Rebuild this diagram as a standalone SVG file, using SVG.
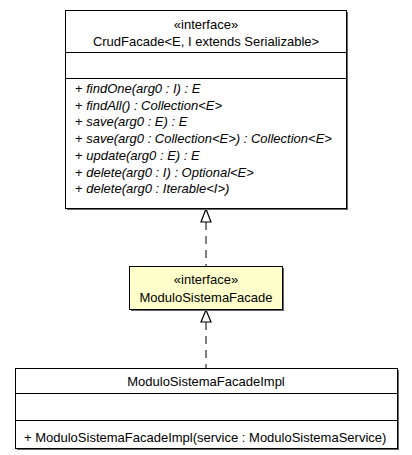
<svg xmlns="http://www.w3.org/2000/svg" width="412" height="455" viewBox="0 0 412 455">
<defs>
<style>
.box{fill:#ffffff;stroke:#000000;stroke-width:1}
.iface{fill:#ffffcc;stroke:#000000;stroke-width:1}
.shadow{fill:#666666}
.sep{stroke:#000000;stroke-width:1}
text{font-family:"Liberation Sans",Arial,sans-serif;font-size:13px;fill:#000000}
.c{text-anchor:middle}
.i{font-style:italic}
.dash{stroke:#555555;stroke-width:1.5;stroke-dasharray:8,6;fill:none}
.head{fill:#ffffff;stroke:#000000;stroke-width:1.2}
</style>
</defs>
<g id="connectors">
<line class="dash" x1="206" y1="222" x2="206" y2="266"/>
<polygon class="head" points="206,209 201,222 211,222"/>
<line class="dash" x1="206" y1="322" x2="206" y2="368"/>
<polygon class="head" points="206,310 201,322 211,322"/>
</g>
<g id="CrudFacade">
<rect class="shadow" x="67" y="12" width="281" height="198"/>
<rect class="box" x="65.5" y="10.5" width="281" height="198"/>
<line class="sep" x1="65.5" y1="52.5" x2="346.5" y2="52.5"/>
<line class="sep" x1="65.5" y1="78.5" x2="346.5" y2="78.5"/>
<text class="c" x="206" y="29">«interface»</text>
<text class="c" x="206" y="46">CrudFacade&lt;E, I extends Serializable&gt;</text>
<text x="75" y="93">+ <tspan class="i">findOne(arg0 : I) : E</tspan></text>
<text x="75" y="109.7">+ <tspan class="i">findAll() : Collection&lt;E&gt;</tspan></text>
<text x="75" y="126.4">+ <tspan class="i">save(arg0 : E) : E</tspan></text>
<text x="75" y="143.1">+ <tspan class="i">save(arg0 : Collection&lt;E&gt;) : Collection&lt;E&gt;</tspan></text>
<text x="75" y="159.8">+ <tspan class="i">update(arg0 : E) : E</tspan></text>
<text x="75" y="176.5">+ <tspan class="i">delete(arg0 : I) : Optional&lt;E&gt;</tspan></text>
<text x="75" y="193.2">+ <tspan class="i">delete(arg0 : Iterable&lt;I&gt;)</tspan></text>
</g>
<g id="ModuloSistemaFacade">
<rect class="shadow" x="131" y="268" width="153" height="43"/>
<rect class="iface" x="129.5" y="266.5" width="153" height="43"/>
<text class="c" x="206" y="284">«interface»</text>
<text class="c" x="206" y="302">ModuloSistemaFacade</text>
</g>
<g id="ModuloSistemaFacadeImpl">
<rect class="shadow" x="17" y="370" width="382" height="80"/>
<rect class="box" x="15.5" y="368.5" width="382" height="80"/>
<line class="sep" x1="15.5" y1="393.5" x2="397.5" y2="393.5"/>
<line class="sep" x1="15.5" y1="420.5" x2="397.5" y2="420.5"/>
<text class="c" x="206" y="386">ModuloSistemaFacadeImpl</text>
<text x="24" y="442">+ ModuloSistemaFacadeImpl(service : ModuloSistemaService)</text>
</g>
</svg>
